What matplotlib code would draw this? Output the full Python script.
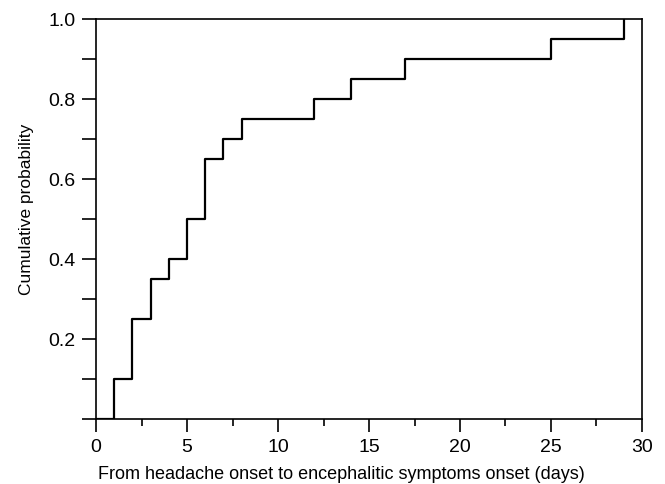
import matplotlib
matplotlib.use("Agg")
import matplotlib.pyplot as plt
from matplotlib.ticker import MultipleLocator, FixedLocator

plt.rcParams['font.family'] = ['Liberation Sans', 'DejaVu Sans']

days = [0, 1, 2, 3, 4, 5, 6, 7, 8, 12, 14, 17, 25, 29]
cum_prob = [0.0, 0.10, 0.25, 0.35, 0.40, 0.50, 0.65, 0.70, 0.75, 0.80, 0.85, 0.90, 0.95, 1.0]
xticks = [0, 5, 10, 15, 20, 25, 30]
yticks = [0.2, 0.4, 0.6, 0.8, 1.0]
ytick_labels = ["0.2", "0.4", "0.6", "0.8", "1.0"]

fig = plt.figure(figsize=(6.65, 4.85), dpi=100)
ax = fig.add_axes([0.1444, 0.134, 0.821, 0.825])

ax.step(days, cum_prob, where='post', color='black', lw=1.6)

ax.set_xlim(0, 30)
ax.set_ylim(0, 1.0)
ax.set_xticks(xticks)
ax.xaxis.set_minor_locator(MultipleLocator(2.5))
ax.yaxis.set_major_locator(FixedLocator(yticks))
ax.set_yticklabels(ytick_labels)
ax.yaxis.set_minor_locator(FixedLocator([0.0, 0.1, 0.3, 0.5, 0.7, 0.9]))

ax.tick_params(axis='x', which='major', direction='out', length=9, width=1.2, labelsize=14, pad=5)
ax.tick_params(axis='x', which='minor', direction='out', length=5, width=1.2)
ax.tick_params(axis='y', which='both', direction='out', length=10, width=1.2, labelsize=14, pad=5)
ax.tick_params(top=False, right=False)

for s in ax.spines.values():
    s.set_linewidth(1.2)

ax.set_xlabel("From headache onset to encephalitic symptoms onset (days)", fontsize=13)
ax.xaxis.set_label_coords(0.45, -0.115)
ax.set_ylabel("Cumulative probability", fontsize=12.5)
ax.yaxis.set_label_coords(-0.113, 0.527)

fig.savefig("out.png", dpi=100)
